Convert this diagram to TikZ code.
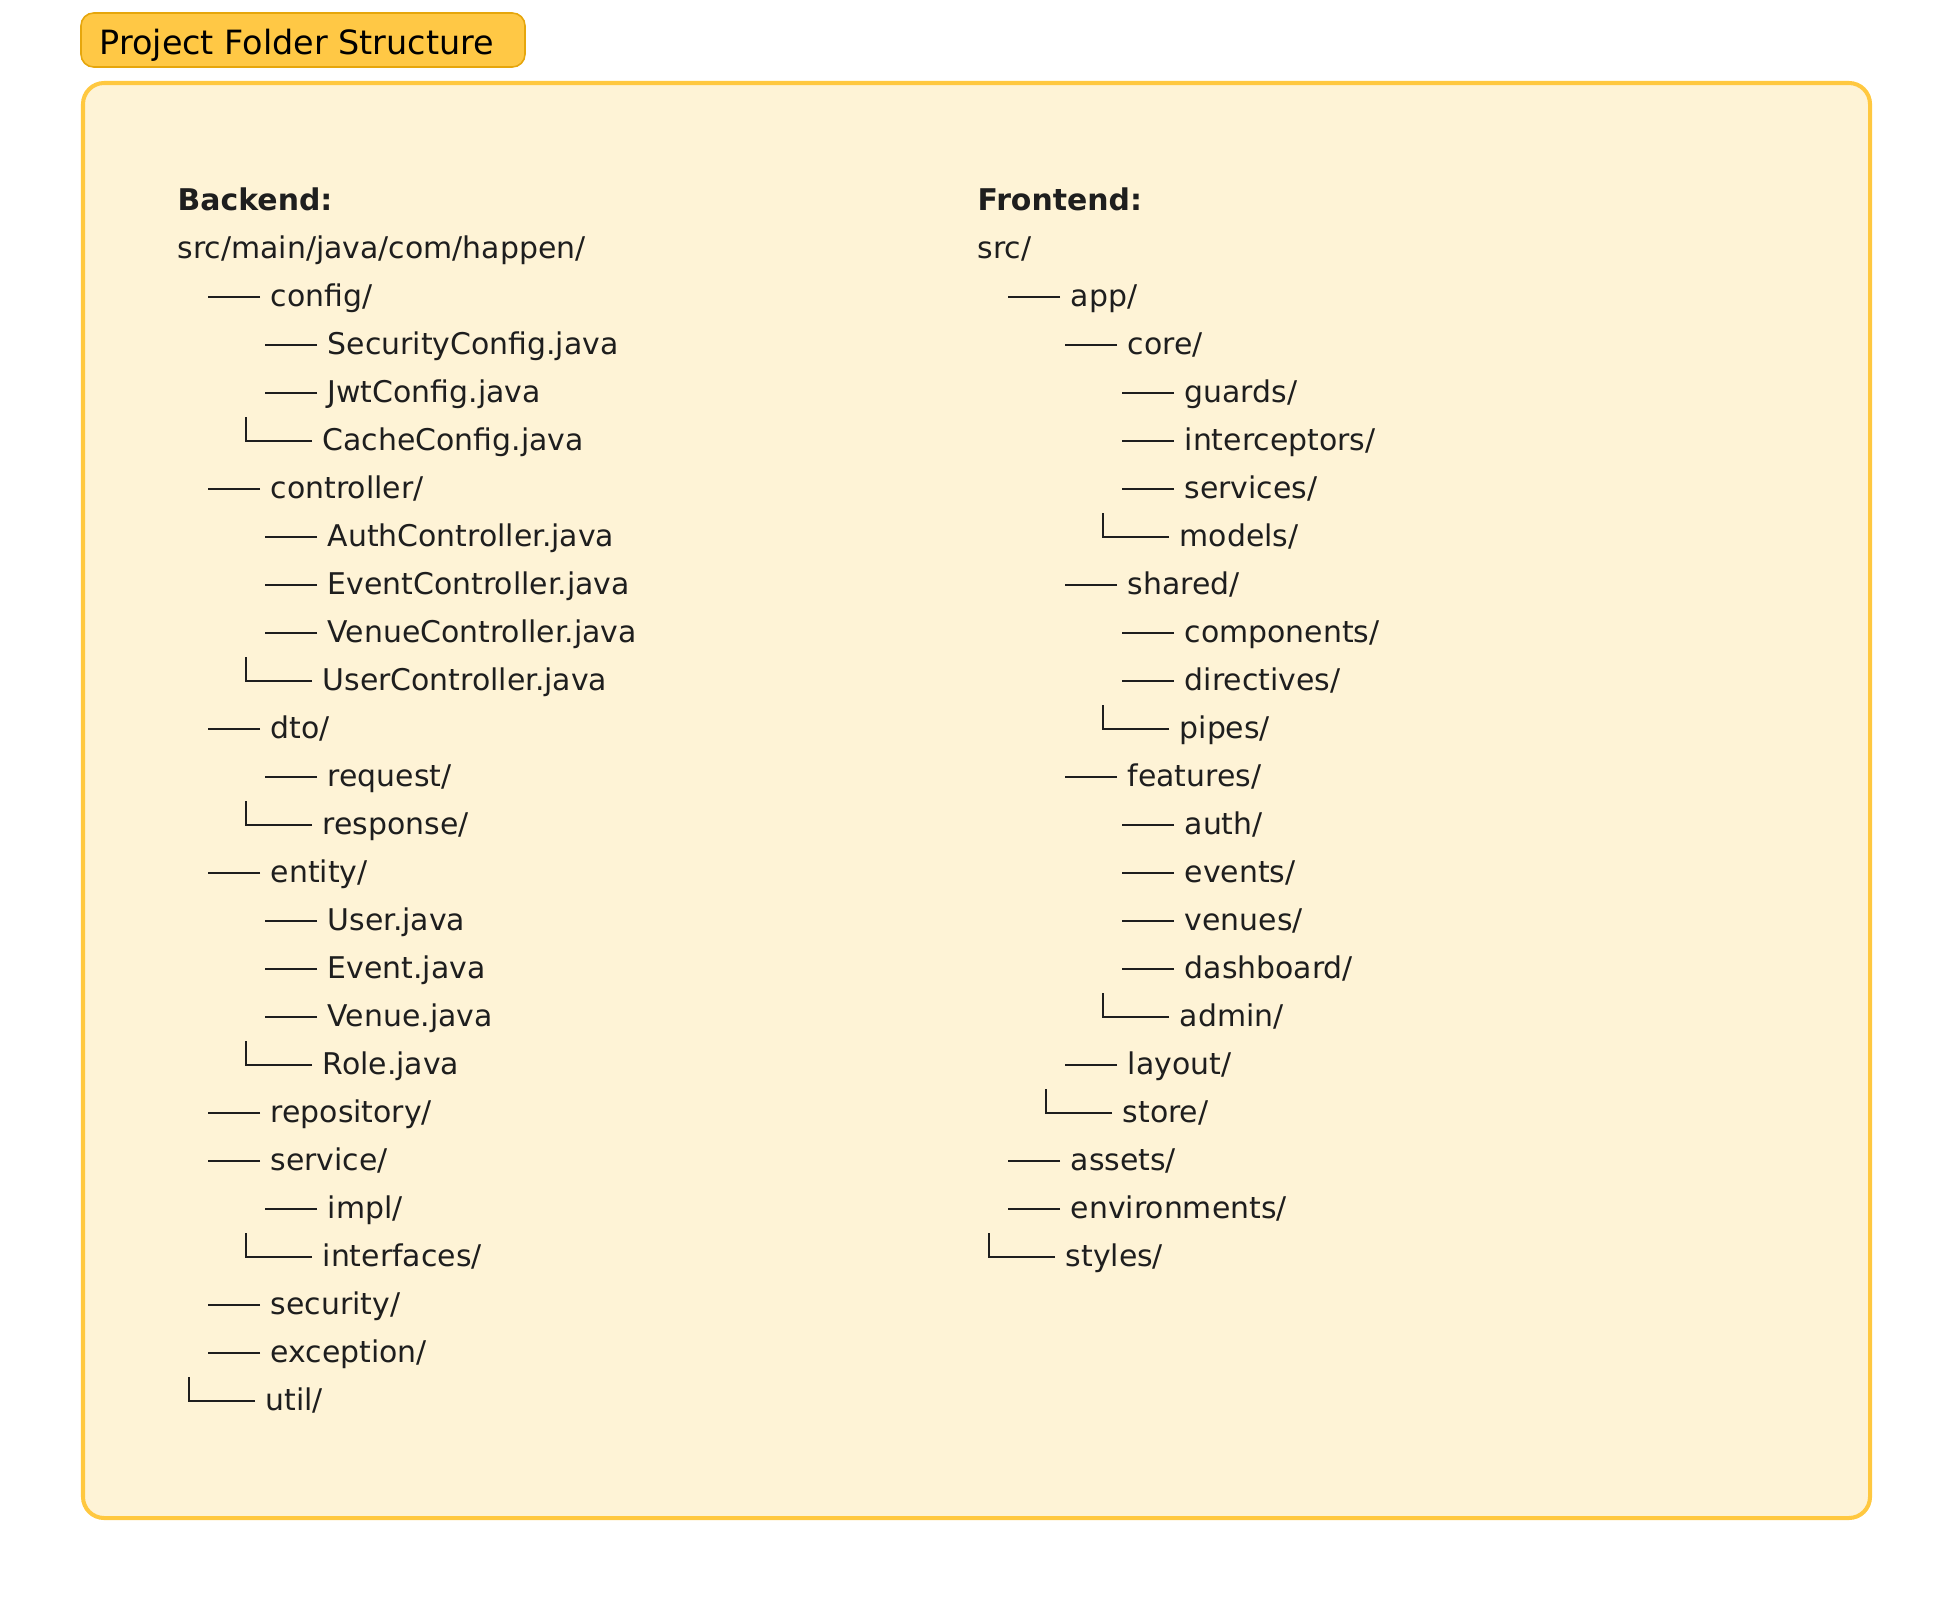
\documentclass[tikz,border=0pt]{standalone}
\usepackage{fontspec}
\setmainfont{DejaVu Sans}
\definecolor{titlefill}{HTML}{FFC845}
\definecolor{titleline}{HTML}{E6A60C}
\definecolor{panelfill}{HTML}{FEF3D6}
\definecolor{panelline}{HTML}{FFC840}
\definecolor{ink}{HTML}{1E1E1E}
\tikzset{
  item/.style={anchor=mid west, inner sep=0pt, text=ink, font=\fontsize{8.5}{10}\selectfont},
  head/.style={item, font=\fontsize{8.5}{10}\selectfont\bfseries},
  branch/.style={draw=ink, line width=0.5pt},
}
\begin{document}
\begin{tikzpicture}[x=0.01cm, y=-0.01cm]
\useasboundingbox (0,0) rectangle (1952,1600);

% title tab and panel
\draw[fill=titlefill, draw=titleline, line width=0.45pt, rounded corners=3.6pt] (81,13) rectangle (525,67);
\node[anchor=base west, inner sep=0pt, font=\fontsize{9.5}{11}\selectfont] (title) at (99,55) {Project Folder Structure};
\draw[fill=panelfill, draw=panelline, line width=1.15pt, rounded corners=6pt] (83,83) rectangle (1870,1518);

% backend tree
\node[head] (be) at (177,201) {Backend:};
\node[item] (beroot) at (177,249) {src/main/java/com/happen/};

\node[item] (config) at (270,297) {config/};
\node[item] (secconf) at (327,345) {SecurityConfig.java};
\node[item] (jwtconf) at (327,393) {JwtConfig.java};
\node[item] (cacheconf) at (322,441) {CacheConfig.java};

\node[item] (controller) at (270,489) {controller/};
\node[item] (authctl) at (327,537) {AuthController.java};
\node[item] (eventctl) at (327,585) {EventController.java};
\node[item] (venuectl) at (327,633) {VenueController.java};
\node[item] (userctl) at (322,681) {UserController.java};

\node[item] (dto) at (270,729) {dto/};
\node[item] (request) at (327,777) {request/};
\node[item] (response) at (322,825) {response/};

\node[item] (entity) at (270,873) {entity/};
\node[item] (user) at (327,921) {User.java};
\node[item] (event) at (327,969) {Event.java};
\node[item] (venue) at (327,1017) {Venue.java};
\node[item] (role) at (322,1065) {Role.java};

\node[item] (repository) at (270,1113) {repository/};
\node[item] (service) at (270,1161) {service/};
\node[item] (impl) at (327,1209) {impl/};
\node[item] (interfaces) at (322,1257) {interfaces/};
\node[item] (security) at (270,1305) {security/};
\node[item] (exception) at (270,1353) {exception/};
\node[item] (util) at (265,1401) {util/};

\draw[branch] (config.mid west) ++(-10,0) -- ++(-52,0);
\draw[branch] (secconf.mid west) ++(-10,0) -- ++(-52,0);
\draw[branch] (jwtconf.mid west) ++(-10,0) -- ++(-52,0);
\draw[branch] (cacheconf.mid west) ++(-10,0) -- ++(-66,0) -- ++(0,-24);
\draw[branch] (controller.mid west) ++(-10,0) -- ++(-52,0);
\draw[branch] (authctl.mid west) ++(-10,0) -- ++(-52,0);
\draw[branch] (eventctl.mid west) ++(-10,0) -- ++(-52,0);
\draw[branch] (venuectl.mid west) ++(-10,0) -- ++(-52,0);
\draw[branch] (userctl.mid west) ++(-10,0) -- ++(-66,0) -- ++(0,-24);
\draw[branch] (dto.mid west) ++(-10,0) -- ++(-52,0);
\draw[branch] (request.mid west) ++(-10,0) -- ++(-52,0);
\draw[branch] (response.mid west) ++(-10,0) -- ++(-66,0) -- ++(0,-24);
\draw[branch] (entity.mid west) ++(-10,0) -- ++(-52,0);
\draw[branch] (user.mid west) ++(-10,0) -- ++(-52,0);
\draw[branch] (event.mid west) ++(-10,0) -- ++(-52,0);
\draw[branch] (venue.mid west) ++(-10,0) -- ++(-52,0);
\draw[branch] (role.mid west) ++(-10,0) -- ++(-66,0) -- ++(0,-24);
\draw[branch] (repository.mid west) ++(-10,0) -- ++(-52,0);
\draw[branch] (service.mid west) ++(-10,0) -- ++(-52,0);
\draw[branch] (impl.mid west) ++(-10,0) -- ++(-52,0);
\draw[branch] (interfaces.mid west) ++(-10,0) -- ++(-66,0) -- ++(0,-24);
\draw[branch] (security.mid west) ++(-10,0) -- ++(-52,0);
\draw[branch] (exception.mid west) ++(-10,0) -- ++(-52,0);
\draw[branch] (util.mid west) ++(-10,0) -- ++(-66,0) -- ++(0,-24);

% frontend tree
\node[head] (fe) at (977,201) {Frontend:};
\node[item] (feroot) at (977,249) {src/};

\node[item] (app) at (1070,297) {app/};
\node[item] (core) at (1127,345) {core/};
\node[item] (guards) at (1184,393) {guards/};
\node[item] (interceptors) at (1184,441) {interceptors/};
\node[item] (services) at (1184,489) {services/};
\node[item] (models) at (1179,537) {models/};

\node[item] (shared) at (1127,585) {shared/};
\node[item] (components) at (1184,633) {components/};
\node[item] (directives) at (1184,681) {directives/};
\node[item] (pipes) at (1179,729) {pipes/};

\node[item] (features) at (1127,777) {features/};
\node[item] (auth) at (1184,825) {auth/};
\node[item] (events) at (1184,873) {events/};
\node[item] (venues) at (1184,921) {venues/};
\node[item] (dashboard) at (1184,969) {dashboard/};
\node[item] (admin) at (1179,1017) {admin/};

\node[item] (layout) at (1127,1065) {layout/};
\node[item] (store) at (1122,1113) {store/};
\node[item] (assets) at (1070,1161) {assets/};
\node[item] (environments) at (1070,1209) {environments/};
\node[item] (styles) at (1065,1257) {styles/};

\draw[branch] (app.mid west) ++(-10,0) -- ++(-52,0);
\draw[branch] (core.mid west) ++(-10,0) -- ++(-52,0);
\draw[branch] (guards.mid west) ++(-10,0) -- ++(-52,0);
\draw[branch] (interceptors.mid west) ++(-10,0) -- ++(-52,0);
\draw[branch] (services.mid west) ++(-10,0) -- ++(-52,0);
\draw[branch] (models.mid west) ++(-10,0) -- ++(-66,0) -- ++(0,-24);
\draw[branch] (shared.mid west) ++(-10,0) -- ++(-52,0);
\draw[branch] (components.mid west) ++(-10,0) -- ++(-52,0);
\draw[branch] (directives.mid west) ++(-10,0) -- ++(-52,0);
\draw[branch] (pipes.mid west) ++(-10,0) -- ++(-66,0) -- ++(0,-24);
\draw[branch] (features.mid west) ++(-10,0) -- ++(-52,0);
\draw[branch] (auth.mid west) ++(-10,0) -- ++(-52,0);
\draw[branch] (events.mid west) ++(-10,0) -- ++(-52,0);
\draw[branch] (venues.mid west) ++(-10,0) -- ++(-52,0);
\draw[branch] (dashboard.mid west) ++(-10,0) -- ++(-52,0);
\draw[branch] (admin.mid west) ++(-10,0) -- ++(-66,0) -- ++(0,-24);
\draw[branch] (layout.mid west) ++(-10,0) -- ++(-52,0);
\draw[branch] (store.mid west) ++(-10,0) -- ++(-66,0) -- ++(0,-24);
\draw[branch] (assets.mid west) ++(-10,0) -- ++(-52,0);
\draw[branch] (environments.mid west) ++(-10,0) -- ++(-52,0);
\draw[branch] (styles.mid west) ++(-10,0) -- ++(-66,0) -- ++(0,-24);

\end{tikzpicture}
\end{document}
